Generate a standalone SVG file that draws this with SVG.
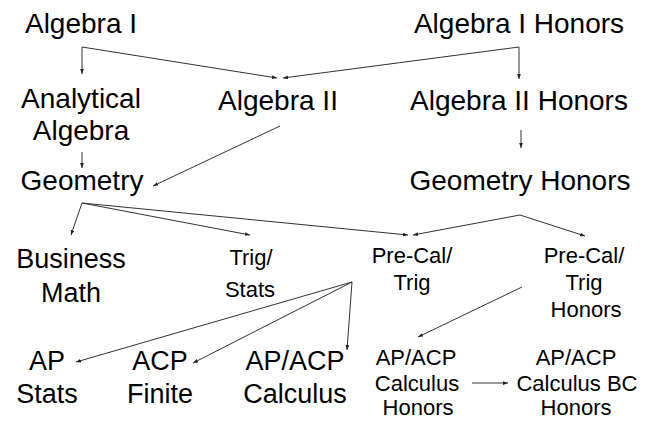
<svg xmlns="http://www.w3.org/2000/svg" width="652" height="421" viewBox="0 0 652 421">
<defs>
<style>
text{font-family:"Liberation Sans",Arial,sans-serif;fill:#000;text-anchor:middle}
.l{font-size:28px}
.m{font-size:27px}
.s{font-size:22px}
.c{fill:none;stroke:#333;stroke-width:1}
</style>
<marker id="a" viewBox="0 0 8 6" refX="8" refY="3" markerWidth="5" markerHeight="4" orient="auto" markerUnits="userSpaceOnUse">
<path d="M0,0 L8,3 L0,6 z" fill="#222"/>
</marker>
</defs>
<rect width="652" height="421" fill="#fff"/>
<g id="connectors">
<path class="c" d="M82,47 L82,74" marker-end="url(#a)"/>
<path class="c" d="M82,47 L277,78" marker-end="url(#a)"/>
<path class="c" d="M519,47 L283,78" marker-end="url(#a)"/>
<path class="c" d="M519,47 L519,79" marker-end="url(#a)"/>
<path class="c" d="M521,130 L521,148" marker-end="url(#a)"/>
<path class="c" d="M82,152 L82,168" marker-end="url(#a)"/>
<path class="c" d="M280,126 L153,186" marker-end="url(#a)"/>
<path class="c" d="M82,203 L71,235" marker-end="url(#a)"/>
<path class="c" d="M82,203 L250,235" marker-end="url(#a)"/>
<path class="c" d="M82,203 L408,235" marker-end="url(#a)"/>
<path class="c" d="M520,215 L413,235" marker-end="url(#a)"/>
<path class="c" d="M520,215 L585,236" marker-end="url(#a)"/>
<path class="c" d="M352,282 L76,362" marker-end="url(#a)"/>
<path class="c" d="M352,282 L193,363" marker-end="url(#a)"/>
<path class="c" d="M352,282 L347,350" marker-end="url(#a)"/>
<path class="c" d="M522,287 L418,337" marker-end="url(#a)"/>
<path class="c" d="M472,383 L508,383" marker-end="url(#a)"/>
</g>
<g id="algebra1"><text class="l" x="81" y="33">Algebra I</text></g>
<g id="algebra1h"><text class="l" x="519" y="33">Algebra I Honors</text></g>
<g id="analytical"><text class="l" x="81" y="108">Analytical</text><text class="l" x="81" y="140">Algebra</text></g>
<g id="algebra2"><text class="l" x="278" y="110">Algebra II</text></g>
<g id="algebra2h"><text class="l" x="519" y="110">Algebra II Honors</text></g>
<g id="geometry"><text class="l" x="82" y="190">Geometry</text></g>
<g id="geometryh"><text class="l" x="520" y="190">Geometry Honors</text></g>
<g id="business"><text class="m" x="71" y="268">Business</text><text class="m" x="71" y="302">Math</text></g>
<g id="trigstats"><text class="s" x="251" y="265">Trig/</text><text class="s" x="250" y="297">Stats</text></g>
<g id="precal"><text class="s" x="412" y="263">Pre-Cal/</text><text class="s" x="412" y="290">Trig</text></g>
<g id="precalh"><text class="s" x="584" y="263">Pre-Cal/</text><text class="s" x="584" y="290">Trig</text><text class="s" x="586" y="317">Honors</text></g>
<g id="apstats"><text class="m" x="47" y="370">AP</text><text class="m" x="47" y="403">Stats</text></g>
<g id="acpfinite"><text class="m" x="160" y="370">ACP</text><text class="m" x="160" y="403">Finite</text></g>
<g id="apcalc"><text class="m" x="295" y="370">AP/ACP</text><text class="m" x="295" y="403">Calculus</text></g>
<g id="apcalch"><text class="s" x="416" y="365">AP/ACP</text><text class="s" x="417" y="391">Calculus</text><text class="s" x="418" y="415">Honors</text></g>
<g id="apcalcbc"><text class="s" x="576" y="365">AP/ACP</text><text class="s" x="577" y="391">Calculus BC</text><text class="s" x="576" y="415">Honors</text></g>
</svg>
